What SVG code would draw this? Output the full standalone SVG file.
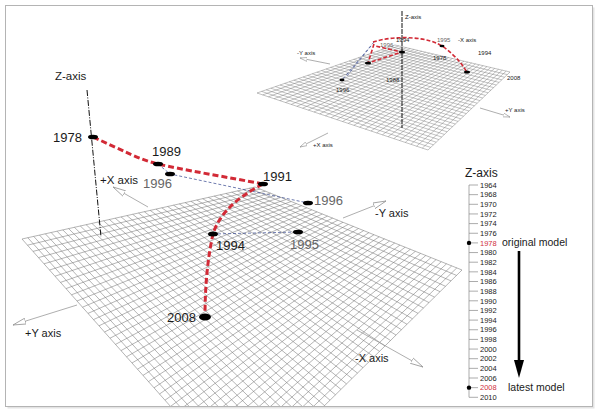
<svg xmlns="http://www.w3.org/2000/svg" width="598" height="411" viewBox="0 0 598 411">
<style>
.grid{fill:none;stroke:#777;stroke-width:0.55}
.sgrid{fill:none;stroke:#777;stroke-width:0.45}
.ax{fill:none;stroke:#999;stroke-width:0.8}
.red{fill:none;stroke:#d22a36;stroke-width:3;stroke-dasharray:6 3}
.sred{fill:none;stroke:#d22a36;stroke-width:1.6;stroke-dasharray:4 2}
.blue{fill:none;stroke:#4a5a9a;stroke-width:0.8;stroke-dasharray:3 2}
.t{font-family:"Liberation Sans",Arial,sans-serif;fill:#1a1a1a}
.yr{font-size:13px}
.gy{fill:#666}
.st{font-size:6px}
.lg{font-size:7.5px}
.rd{fill:#d03040}
.mk{fill:#000}
</style>
<defs>
<marker id="oa" viewBox="0 0 14 8" refX="13" refY="4" markerWidth="14" markerHeight="8" markerUnits="userSpaceOnUse" orient="auto">
<path d="M0,1 L13,4 L0,7 Z" fill="#fff" stroke="#999" stroke-width="0.8"/>
</marker>
<marker id="sa" viewBox="0 0 10 6" refX="9" refY="3" markerWidth="8" markerHeight="5" markerUnits="userSpaceOnUse" orient="auto">
<path d="M0,0.5 L9,3 L0,5.5 Z" fill="#fff" stroke="#999" stroke-width="0.8"/>
</marker>
<clipPath id="fr"><rect x="6" y="6" width="586" height="400"/></clipPath>
</defs>
<rect x="7.5" y="7.5" width="587" height="401" fill="#e4e4e4"/>
<rect x="5.5" y="5.5" width="587" height="401" fill="#fff" stroke="#b4b4b4" stroke-width="1"/>

<g id="main-grid" clip-path="url(#fr)">
<path class="grid" d="M22,239L242,487M27.8,237.7L247.5,481.6M33.7,236.4L253,476.2M39.5,235.1L258.5,470.7M45.3,233.8L264,465.3M51.1,232.5L269.5,459.9M57,231.2L275,454.5M62.8,229.9L280.5,449M68.6,228.6L286,443.6M74.4,227.3L291.5,438.2M80.3,226L297,432.8M86.1,224.7L302.5,427.3M91.9,223.4L308,421.9M97.7,222.1L313.5,416.5M103.6,220.8L319,411.1M109.4,219.5L324.5,405.6M115.2,218.2L330,400.2M121,216.9L335.5,394.8M126.9,215.6L341,389.4M132.7,214.3L346.5,383.9M138.5,213L352,378.5M144.3,211.7L357.5,373.1M150.2,210.4L363,367.7M156,209.1L368.5,362.2M161.8,207.8L374,356.8M167.6,206.5L379.5,351.4M173.5,205.2L385,345.9M179.3,203.9L390.5,340.5M185.1,202.6L396,335.1M190.9,201.3L401.5,329.7M196.8,200L407,324.3M202.6,198.7L412.5,318.8M208.4,197.4L418,313.4M214.2,196.1L423.5,308M220.1,194.8L429,302.6M225.9,193.5L434.5,297.1M231.7,192.2L440,291.7M237.5,190.9L445.5,286.3M243.4,189.6L451,280.9M249.2,188.3L456.5,275.4M255,187L462,270"/>
<path class="grid" d="M22,239L255,187M27.5,245.2L260.2,189.1M33,251.4L265.4,191.2M38.5,257.6L270.5,193.2M44,263.8L275.7,195.3M49.5,270L280.9,197.4M55,276.2L286.1,199.5M60.5,282.4L291.2,201.5M66,288.6L296.4,203.6M71.5,294.8L301.6,205.7M77,301L306.8,207.8M82.5,307.2L311.9,209.8M88,313.4L317.1,211.9M93.5,319.6L322.3,214M99,325.8L327.5,216.1M104.5,332L332.6,218.1M110,338.2L337.8,220.2M115.5,344.4L343,222.3M121,350.6L348.2,224.4M126.5,356.8L353.3,226.4M132,363L358.5,228.5M137.5,369.2L363.7,230.6M143,375.4L368.9,232.7M148.5,381.6L374,234.7M154,387.8L379.2,236.8M159.5,394L384.4,238.9M165,400.2L389.6,241M170.5,406.4L394.7,243M176,412.6L399.9,245.1M181.5,418.8L405.1,247.2M187,425L410.3,249.3M192.5,431.2L415.4,251.3M198,437.4L420.6,253.4M203.5,443.6L425.8,255.5M209,449.8L431,257.6M214.5,456L436.1,259.6M220,462.2L441.3,261.7M225.5,468.4L446.5,263.8M231,474.6L451.7,265.9M236.5,480.8L456.8,267.9M242,487L462,270"/>
</g>

<g id="inset-grid">
<path class="sgrid" d="M257,93L428,150M261.6,91.4L430.7,147.4M266.2,89.8L433.5,144.8M270.8,88.2L436.2,142.2M275.4,86.6L438.9,139.6M280,85L441.7,137M284.6,83.4L444.4,134.4M289.2,81.8L447.1,131.8M293.8,80.2L449.9,129.2M298.4,78.6L452.6,126.6M303,77L455.3,124M307.6,75.4L458.1,121.4M312.2,73.8L460.8,118.8M316.8,72.2L463.5,116.2M321.4,70.6L466.3,113.6M326,69L469,111M330.6,67.4L471.7,108.4M335.2,65.8L474.5,105.8M339.8,64.2L477.2,103.2M344.4,62.6L479.9,100.6M349,61L482.7,98M353.6,59.4L485.4,95.4M358.2,57.8L488.1,92.8M362.8,56.2L490.9,90.2M367.4,54.6L493.6,87.6M372,53L496.3,85M376.6,51.4L499.1,82.4M381.2,49.8L501.8,79.8M385.8,48.2L504.5,77.2M390.4,46.6L507.3,74.6M395,45L510,72"/>
<path class="sgrid" d="M257,93L395,45M262.7,94.9L398.8,45.9M268.4,96.8L402.7,46.8M274.1,98.7L406.5,47.7M279.8,100.6L410.3,48.6M285.5,102.5L414.2,49.5M291.2,104.4L418,50.4M296.9,106.3L421.8,51.3M302.6,108.2L425.7,52.2M308.3,110.1L429.5,53.1M314,112L433.3,54M319.7,113.9L437.2,54.9M325.4,115.8L441,55.8M331.1,117.7L444.8,56.7M336.8,119.6L448.7,57.6M342.5,121.5L452.5,58.5M348.2,123.4L456.3,59.4M353.9,125.3L460.2,60.3M359.6,127.2L464,61.2M365.3,129.1L467.8,62.1M371,131L471.7,63M376.7,132.9L475.5,63.9M382.4,134.8L479.3,64.8M388.1,136.7L483.2,65.7M393.8,138.6L487,66.6M399.5,140.5L490.8,67.5M405.2,142.4L494.7,68.4M410.9,144.3L498.5,69.3M416.6,146.2L502.3,70.2M422.3,148.1L506.2,71.1M428,150L510,72"/>
</g>

<g id="connectors">
<line class="ax" x1="148" y1="207" x2="113" y2="187" marker-end="url(#oa)"/>
<line class="ax" x1="343" y1="218" x2="386" y2="201" marker-end="url(#oa)"/>
<line class="ax" x1="77" y1="305" x2="13" y2="325" marker-end="url(#oa)"/>
<line class="ax" x1="357" y1="330" x2="423" y2="367" marker-end="url(#oa)"/>
<line x1="87" y1="90" x2="101" y2="237" stroke="#111" stroke-width="1" stroke-dasharray="6 1.5 1 1.5"/>
<path class="blue" d="M158,164L170,174L308,203"/>
<path class="blue" d="M213,234L298,232"/>
<path class="red" d="M93,137C122,150 138,159 158,164S232,178 263,184"/>
<path class="red" d="M263,184Q222,205 213,234Q205,270 205,317"/>

<line class="ax" x1="330" y1="64" x2="300" y2="58" marker-end="url(#sa)"/>
<line class="ax" x1="480" y1="108" x2="510" y2="117" marker-end="url(#sa)"/>
<line class="ax" x1="328" y1="133" x2="300" y2="147" marker-end="url(#sa)"/>
<line x1="402" y1="11" x2="402" y2="128" stroke="#111" stroke-width="1" stroke-dasharray="5 1"/>
<path class="blue" d="M374,42L342,80"/>
<path class="blue" d="M371,46L347,76"/>
<path class="sred" d="M373,42C395,35 430,36 445,48S462,65 467,72"/>
<path class="sred" d="M374,44L368,63L402,52L375,46"/>
</g>

<g id="node-1978"><ellipse class="mk" cx="93" cy="137" rx="5" ry="2.3"/><text class="t yr" x="82" y="142" text-anchor="end">1978</text></g>
<g id="node-1989"><ellipse class="mk" cx="158" cy="164" rx="5" ry="2.3"/><text class="t yr" x="152" y="156">1989</text></g>
<g id="node-1996a"><ellipse class="mk" cx="170" cy="174" rx="5" ry="2.3"/><text class="t yr gy" x="143" y="188">1996</text></g>
<g id="node-1991"><ellipse class="mk" cx="263" cy="184" rx="5" ry="2.3"/><text class="t yr" x="263" y="181">1991</text></g>
<g id="node-1996b"><ellipse class="mk" cx="308" cy="203" rx="5" ry="2.3"/><text class="t yr gy" x="314" y="205">1996</text></g>
<g id="node-1994"><ellipse class="mk" cx="213" cy="234" rx="5" ry="2.5"/><text class="t yr" x="216" y="250">1994</text></g>
<g id="node-1995"><ellipse class="mk" cx="298" cy="232" rx="5" ry="2.3"/><text class="t yr gy" x="290" y="249">1995</text></g>
<g id="node-2008"><ellipse class="mk" cx="205" cy="317" rx="6" ry="3.5"/><text class="t yr" x="167" y="322">2008</text></g>

<g id="main-labels">
<text class="t" x="55" y="80" font-size="11.5">Z-axis</text>
<text class="t" x="100" y="184" font-size="11.5">+X axis</text>
<text class="t" x="375" y="217" font-size="11">-Y axis</text>
<text class="t" x="25" y="337" font-size="11">+Y axis</text>
<text class="t" x="355" y="362" font-size="11">-X axis</text>
</g>

<g id="inset-nodes">
<ellipse class="mk" cx="402" cy="52" rx="3" ry="1.6"/>
<ellipse class="mk" cx="368" cy="63" rx="3" ry="1.6"/>
<ellipse class="mk" cx="467" cy="72" rx="3" ry="1.6"/>
<ellipse class="mk" cx="442" cy="46" rx="2.5" ry="1.2"/>
<ellipse class="mk" cx="342" cy="80" rx="2.5" ry="1.4"/>
<text class="t st" x="405" y="19">Z-axis</text>
<text class="t st" x="297" y="55">-Y axis</text>
<text class="t st" x="505" y="112">+Y axis</text>
<text class="t st" x="313" y="147">+X axis</text>
<text class="t st" x="458" y="42">-X axis</text>
<text class="t st gy" x="437" y="42">1995</text>
<text class="t st" x="396" y="42">1994</text>
<text class="t st gy" x="380" y="47">1996</text>
<text class="t st" x="433" y="60">1978</text>
<text class="t st" x="478" y="55">1994</text>
<text class="t st" x="507" y="80">2008</text>
<text class="t st" x="386" y="82">1988</text>
<text class="t st" x="336" y="92">1996</text>
</g>

<g id="legend">
<text class="t" x="465" y="177" font-size="12">Z-axis</text>
<path d="M469,185V397.3M469,185H478M469,194.65H478M469,204.3H478M469,213.95H478M469,223.6H478M469,233.25H478M469,242.9H478M469,252.55H478M469,262.2H478M469,271.85H478M469,281.5H478M469,291.15H478M469,300.8H478M469,310.45H478M469,320.1H478M469,329.75H478M469,339.4H478M469,349.05H478M469,358.7H478M469,368.35H478M469,378H478M469,387.65H478M469,397.3H478" fill="none" stroke="#888" stroke-width="0.7"/>
<g class="t lg">
<text x="480" y="187.7">1964</text>
<text x="480" y="197.3">1968</text>
<text x="480" y="207">1970</text>
<text x="480" y="216.6">1972</text>
<text x="480" y="226.3">1974</text>
<text x="480" y="235.9">1976</text>
<text x="480" y="245.6" class="rd">1978</text>
<text x="480" y="255.2">1980</text>
<text x="480" y="264.9">1982</text>
<text x="480" y="274.5">1984</text>
<text x="480" y="284.2">1986</text>
<text x="480" y="293.8">1988</text>
<text x="480" y="303.5">1990</text>
<text x="480" y="313.1">1992</text>
<text x="480" y="322.8">1994</text>
<text x="480" y="332.4">1996</text>
<text x="480" y="342.1">1998</text>
<text x="480" y="351.7">2000</text>
<text x="480" y="361.4">2002</text>
<text x="480" y="371">2004</text>
<text x="480" y="380.7">2006</text>
<text x="480" y="390.3" class="rd">2008</text>
<text x="480" y="400">2010</text>
</g>
<circle cx="469" cy="242.9" r="2.2" fill="#000"/>
<circle cx="469" cy="387.65" r="2.2" fill="#000"/>
<text class="t" x="502" y="246" font-size="10.5">original model</text>
<text class="t" x="508" y="391" font-size="10.5">latest model</text>
<line x1="519" y1="251" x2="519" y2="362" stroke="#000" stroke-width="2.6"/>
<path d="M514,360L524,360L519,378Z" fill="#000"/>
</g>
</svg>
